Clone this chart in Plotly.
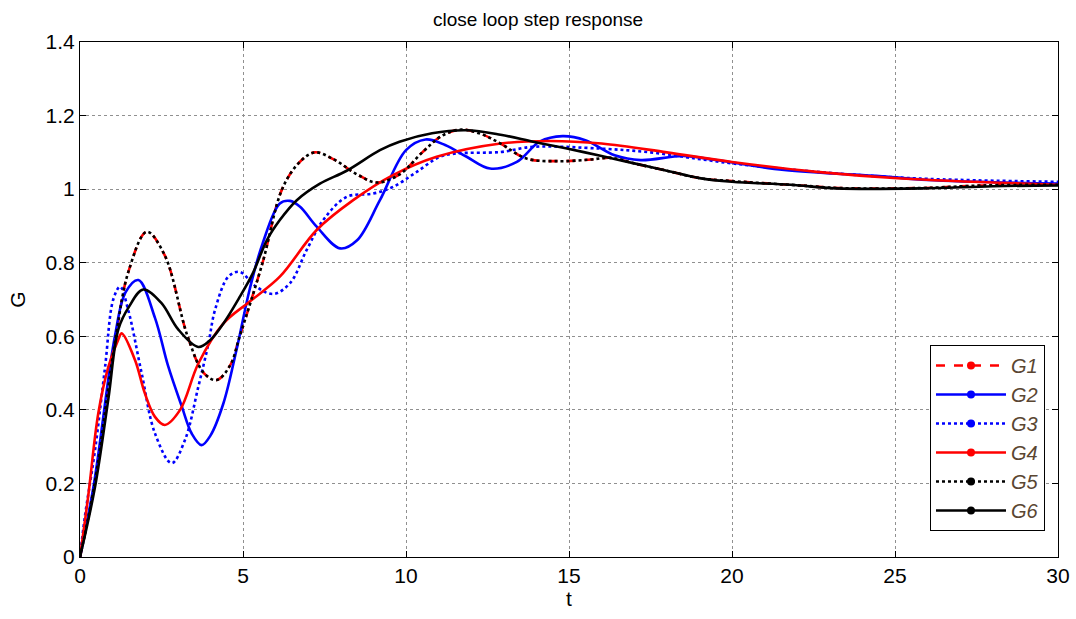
import plotly.graph_objects as go

# ---- data ----
t_g1 = [0, 0.45, 1.1, 1.5, 2.05, 2.6, 3.3, 3.8, 4.19, 4.6, 4.9, 5.6, 6.2, 6.7, 7.2, 7.8, 8.5, 9.1, 9.8,
        10.5, 11.1, 11.7, 12.3, 12.9, 13.7, 14.7, 15.6, 16.3, 17.0, 18.0, 19.0, 20.0, 22.1, 23.3, 25.8, 27.7, 30]
g1 = [0, 0.2, 0.6, 0.78, 0.884, 0.82, 0.6, 0.5, 0.481, 0.52, 0.6, 0.8, 1.0, 1.07, 1.10, 1.08, 1.04, 1.018, 1.04,
      1.1, 1.145, 1.162, 1.15, 1.124, 1.083, 1.076, 1.08, 1.085, 1.07, 1.05, 1.03, 1.022, 1.01, 1.003, 1.003, 1.01, 1.012]

t_g2 = [0, 0.43, 1.07, 1.4, 1.79, 2.3, 2.7, 3.12, 3.43, 3.73, 4.0, 4.4, 4.8, 5.2, 5.6, 6.13, 6.44, 6.75, 7.26,
        7.98, 8.5, 9.2, 10.0, 10.6, 11.2, 11.86, 12.58, 13.4, 14.1, 14.8, 15.5, 16.4, 17.2, 18.5, 19.5, 21.6, 24.6, 26, 30]
g2 = [0, 0.2, 0.6, 0.72, 0.753, 0.65, 0.52, 0.41, 0.335, 0.304, 0.33, 0.418, 0.563, 0.726, 0.852, 0.961, 0.968,
      0.952, 0.898, 0.839, 0.861, 0.97, 1.106, 1.135, 1.12, 1.088, 1.056, 1.074, 1.129, 1.144, 1.133, 1.092, 1.079,
      1.09, 1.079, 1.052, 1.035, 1.025, 1.015]

t_g3 = [0, 0.15, 0.46, 0.77, 1.02, 1.23, 1.48, 1.89, 2.3, 2.81, 3.22, 3.63, 3.94, 4.14, 4.55, 4.9, 5.4, 5.93,
        6.44, 6.95, 7.46, 8.18, 9.0, 9.6, 10.3, 11.04, 11.55, 12.9, 13.9, 16.0, 17.5, 18.9, 20, 22.6, 25.7, 30]
g3 = [0, 0.11, 0.29, 0.517, 0.70, 0.735, 0.671, 0.5, 0.336, 0.255, 0.318, 0.463, 0.58, 0.671, 0.762, 0.775,
      0.735, 0.715, 0.744, 0.834, 0.916, 0.979, 0.988, 1.006, 1.045, 1.088, 1.097, 1.101, 1.115, 1.11, 1.1,
      1.083, 1.07, 1.047, 1.029, 1.02]

t_g4 = [0, 0.25, 0.56, 0.87, 1.17, 1.28, 1.69, 1.99, 2.3, 2.6, 3.07, 3.63, 4.4, 5.2, 6.13, 7.26, 8.38, 9.6,
        10.94, 12.9, 14.4, 16, 18, 20, 22.6, 25.2, 30]
g4 = [0, 0.164, 0.39, 0.517, 0.59, 0.608, 0.535, 0.445, 0.381, 0.359, 0.4, 0.526, 0.635, 0.694, 0.762, 0.889,
      0.97, 1.038, 1.088, 1.124, 1.131, 1.124, 1.1, 1.074, 1.047, 1.029, 1.012]

t_g5 = [0, 0.45, 1.1, 1.5, 2.05, 2.6, 3.3, 3.8, 4.19, 4.6, 4.9, 5.6, 6.2, 6.7, 7.2, 7.8, 8.5, 9.1, 9.8,
        10.5, 11.1, 11.7, 12.3, 12.9, 13.7, 14.7, 15.6, 16.3, 17.0, 18.0, 19.0, 20.0, 22.1, 23.3, 25.8, 27.7, 30]
g5 = [0, 0.2, 0.6, 0.78, 0.884, 0.82, 0.6, 0.5, 0.481, 0.52, 0.6, 0.8, 1.0, 1.07, 1.10, 1.08, 1.04, 1.018, 1.04,
      1.1, 1.145, 1.162, 1.15, 1.124, 1.083, 1.076, 1.08, 1.085, 1.07, 1.05, 1.03, 1.022, 1.01, 1.003, 1.003, 1.01, 1.012]

t_g6 = [0, 0.46, 0.87, 1.18, 1.5, 1.94, 2.5, 3.0, 3.63, 4.0, 4.4, 4.9, 5.3, 5.73, 6.13, 6.65, 7.36, 8.18, 9.2,
        9.8, 10.8, 11.86, 12.9, 13.9, 14.9, 16.0, 17.0, 18.0, 19.0, 20.0, 21.8, 23.2, 25.8, 28.0, 30]
g6 = [0, 0.19, 0.43, 0.62, 0.68, 0.727, 0.69, 0.62, 0.571, 0.59, 0.635, 0.707, 0.771, 0.861, 0.916, 0.97,
      1.015, 1.05, 1.106, 1.129, 1.152, 1.160, 1.148, 1.129, 1.111, 1.09, 1.07, 1.05, 1.03, 1.02, 1.012, 1.002,
      1.002, 1.008, 1.01]

names = ["G1", "G2", "G3", "G4", "G5", "G6"]
xs = [t_g1, t_g2, t_g3, t_g4, t_g5, t_g6]
ys = [g1, g2, g3, g4, g5, g6]
colors = ["#ff0000", "#0000ff", "#0000ff", "#ff0000", "#000000", "#000000"]
dashes = ["dash", "solid", "dot", "solid", "dot", "solid"]

x_ticks = [0, 5, 10, 15, 20, 25, 30]
y_ticks = [0, 0.2, 0.4, 0.6, 0.8, 1.0, 1.2, 1.4]
y_labels = ["0", "0.2", "0.4", "0.6", "0.8", "1", "1.2", "1.4"]

FONT = "Arial, Liberation Sans, sans-serif"

fig = go.Figure()
for n, x, y, c, d in zip(names, xs, ys, colors, dashes):
    fig.add_trace(go.Scatter(x=x, y=y, mode="lines", name=n, showlegend=False,
                             line=dict(color=c, dash=d, width=2.6, shape="spline", smoothing=1.0)))
for n, c, d in zip(names, colors, dashes):
    fig.add_trace(go.Scatter(x=[None], y=[None], mode="lines+markers", name=n,
                             line=dict(color=c, dash=d, width=2.6),
                             marker=dict(color=c, size=8, symbol="circle")))

axis_common = dict(
    showline=True, linecolor="black", linewidth=1, mirror="ticks",
    ticks="inside", ticklen=6, tickcolor="black",
    showgrid=True, gridcolor="#909090", griddash="dot", gridwidth=1,
    zeroline=False, automargin=False,
    tickfont=dict(family=FONT, size=21, color="black"),
)

fig.update_layout(
    width=1076, height=619,
    margin=dict(l=80, r=18, t=42, b=62),
    paper_bgcolor="white", plot_bgcolor="white",
    title=dict(text="close loop step response", x=0.5, xanchor="center", y=0.968, yanchor="middle",
               font=dict(family=FONT, size=19, color="black")),
    xaxis=dict(range=[0, 30], tickvals=x_ticks, **axis_common,
               title=dict(text="t", standoff=4, font=dict(family=FONT, size=21, color="black"))),
    yaxis=dict(range=[0, 1.4], tickvals=y_ticks, ticktext=y_labels, **axis_common,
               title=dict(text="G", standoff=14, font=dict(family=FONT, size=21, color="black"))),
    legend=dict(x=0.9867, y=0.0505, xanchor="right", yanchor="bottom",
                bgcolor="white", bordercolor="black", borderwidth=1,
                itemwidth=70,
                font=dict(family=FONT, size=20, color="#5a4632", style="italic")),
)

fig.write_html("out.html")
